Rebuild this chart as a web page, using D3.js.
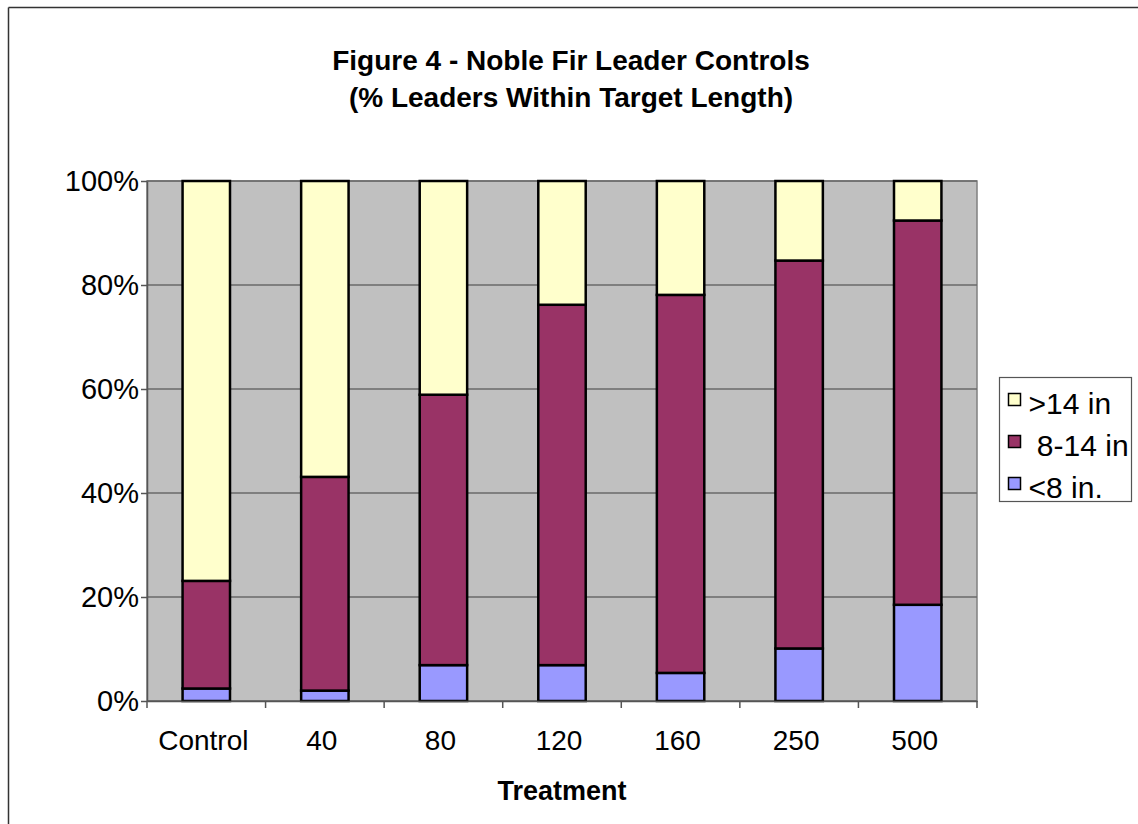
<!DOCTYPE html>
<html>
<head>
<meta charset="utf-8">
<script src="https://cdn.jsdelivr.net/npm/d3@7"></script>
<style>
    body { margin: 0; background: #fff; }
    svg { display: block; font-family: "Liberation Sans", Arial, sans-serif; }
</style>
</head>
<body>
<div id="chart"></div>
<script>
const categories = ["Control", "40", "80", "120", "160", "250", "500"];
const under8 = [2.4, 2.0, 6.9, 6.9, 5.4, 10.1, 18.5];
const from8to14 = [20.7, 41.1, 52.0, 69.3, 72.7, 74.6, 73.9];
const over14 = [76.9, 56.9, 41.1, 23.8, 21.9, 15.3, 7.6];
const yTicks = [0, 20, 40, 60, 80, 100];

const seriesKeys = ["under8", "from8to14", "over14"];
const seriesNames = { under8: "<8 in.", from8to14: " 8-14 in", over14: ">14 in" };
const seriesColors = { under8: "#9999FF", from8to14: "#993366", over14: "#FFFFCC" };

const width = 1138, height = 824;
const margin = { top: 181, right: 161, bottom: 123, left: 147 };
const innerWidth = width - margin.left - margin.right;
const innerHeight = height - margin.top - margin.bottom;

const rows = categories.map((c, i) => ({
    cat: c, under8: under8[i], from8to14: from8to14[i], over14: over14[i]
}));
const stacked = d3.stack().keys(seriesKeys)(rows);

const svg = d3.select("#chart")
    .append("svg")
    .attr("width", width)
    .attr("height", height);

// chart border: left and top edges
svg.append("line")
    .attr("x1", 8.5).attr("y1", 7.5)
    .attr("x2", 8.5).attr("y2", height)
    .attr("stroke", "#333")
    .attr("stroke-width", 1.5);
svg.append("line")
    .attr("x1", 8.5).attr("y1", 7.5)
    .attr("x2", width).attr("y2", 7.5)
    .attr("stroke", "#333")
    .attr("stroke-width", 1.5);

// title
svg.append("text")
    .attr("x", 571).attr("y", 70)
    .attr("text-anchor", "middle")
    .attr("font-weight", "bold")
    .attr("font-size", "28px")
    .text("Figure 4 - Noble Fir Leader Controls");
svg.append("text")
    .attr("x", 571).attr("y", 107)
    .attr("text-anchor", "middle")
    .attr("font-weight", "bold")
    .attr("font-size", "28px")
    .text("(% Leaders Within Target Length)");

const inner = svg.append("g")
    .attr("transform", `translate(${margin.left},${margin.top})`);

// scales
const x = d3.scaleBand()
    .domain(categories)
    .range([0, innerWidth])
    .paddingInner(0.6)
    .paddingOuter(0.3);

const y = d3.scaleLinear()
    .domain([0, 100])
    .range([innerHeight, 0]);

// plot background
inner.append("rect")
    .attr("width", innerWidth)
    .attr("height", innerHeight)
    .attr("fill", "#C0C0C0")
    .attr("stroke", "#808080")
    .attr("stroke-width", 1.5);

// gridlines
inner.selectAll(".grid")
    .data(yTicks)
    .join("line")
    .attr("class", "grid")
    .attr("x1", 0).attr("x2", innerWidth)
    .attr("y1", d => y(d)).attr("y2", d => y(d))
    .attr("stroke", "#6a6a6a")
    .attr("stroke-width", 1.5);

// bars
inner.selectAll(".series")
    .data(stacked)
    .join("g")
    .attr("class", "series")
    .attr("fill", d => seriesColors[d.key])
    .selectAll("rect")
    .data(d => d)
    .join("rect")
    .attr("x", d => x(d.data.cat))
    .attr("y", d => y(d[1]))
    .attr("width", x.bandwidth())
    .attr("height", d => y(d[0]) - y(d[1]))
    .attr("stroke", "#000")
    .attr("stroke-width", 2.5);

// y-axis
const yAxis = inner.append("g")
    .call(d3.axisLeft(y).tickValues(yTicks).tickSize(6).tickSizeOuter(0).tickPadding(2).tickFormat(d => d + "%"))
    .attr("font-size", "29px")
    .attr("font-family", "Liberation Sans, Arial, sans-serif");
yAxis.select(".domain").attr("stroke", "#555").attr("stroke-width", 1.5);
yAxis.selectAll(".tick line").attr("stroke", "#555").attr("stroke-width", 1.5);
yAxis.selectAll(".tick text").attr("fill", "#000");

// x-axis
const xAxis = inner.append("g")
    .attr("transform", `translate(0,${innerHeight})`)
    .call(d3.axisBottom(x).tickSize(0).tickPadding(29))
    .attr("font-size", "28px")
    .attr("font-family", "Liberation Sans, Arial, sans-serif");
xAxis.select(".domain").attr("stroke", "#555").attr("stroke-width", 1.5);
xAxis.selectAll(".tick text").attr("fill", "#000").attr("dx", -3);

// x tick marks at category boundaries
const boundaries = d3.range(categories.length + 1).map(i => i * x.step());
xAxis.selectAll(".boundary")
    .data(boundaries)
    .join("line")
    .attr("class", "boundary")
    .attr("x1", d => d).attr("x2", d => d)
    .attr("y1", 0).attr("y2", 7)
    .attr("stroke", "#555")
    .attr("stroke-width", 1.5);

// x label
svg.append("text")
    .attr("x", margin.left + innerWidth / 2)
    .attr("y", 800)
    .attr("text-anchor", "middle")
    .attr("font-weight", "bold")
    .attr("font-size", "27px")
    .text("Treatment");

// legend
const legend = svg.append("g")
    .attr("transform", "translate(999.5,377.5)");

legend.append("rect")
    .attr("width", 132)
    .attr("height", 124)
    .attr("fill", "#fff")
    .attr("stroke", "#555")
    .attr("stroke-width", 1.2);

const legendKeys = ["over14", "from8to14", "under8"];

legend.selectAll(".swatch")
    .data(legendKeys)
    .join("rect")
    .attr("class", "swatch")
    .attr("x", 9)
    .attr("y", (d, i) => 16 + i * 42)
    .attr("width", 12)
    .attr("height", 12)
    .attr("fill", d => seriesColors[d])
    .attr("stroke", "#000")
    .attr("stroke-width", 1.5);

legend.selectAll(".label")
    .data(legendKeys)
    .join("text")
    .attr("class", "label")
    .attr("x", 29)
    .attr("y", (d, i) => 36 + i * 42)
    .attr("font-size", "30px")
    .attr("fill", "#000")
    .style("white-space", "pre")
    .text(d => seriesNames[d]);
</script>
</body>
</html>
